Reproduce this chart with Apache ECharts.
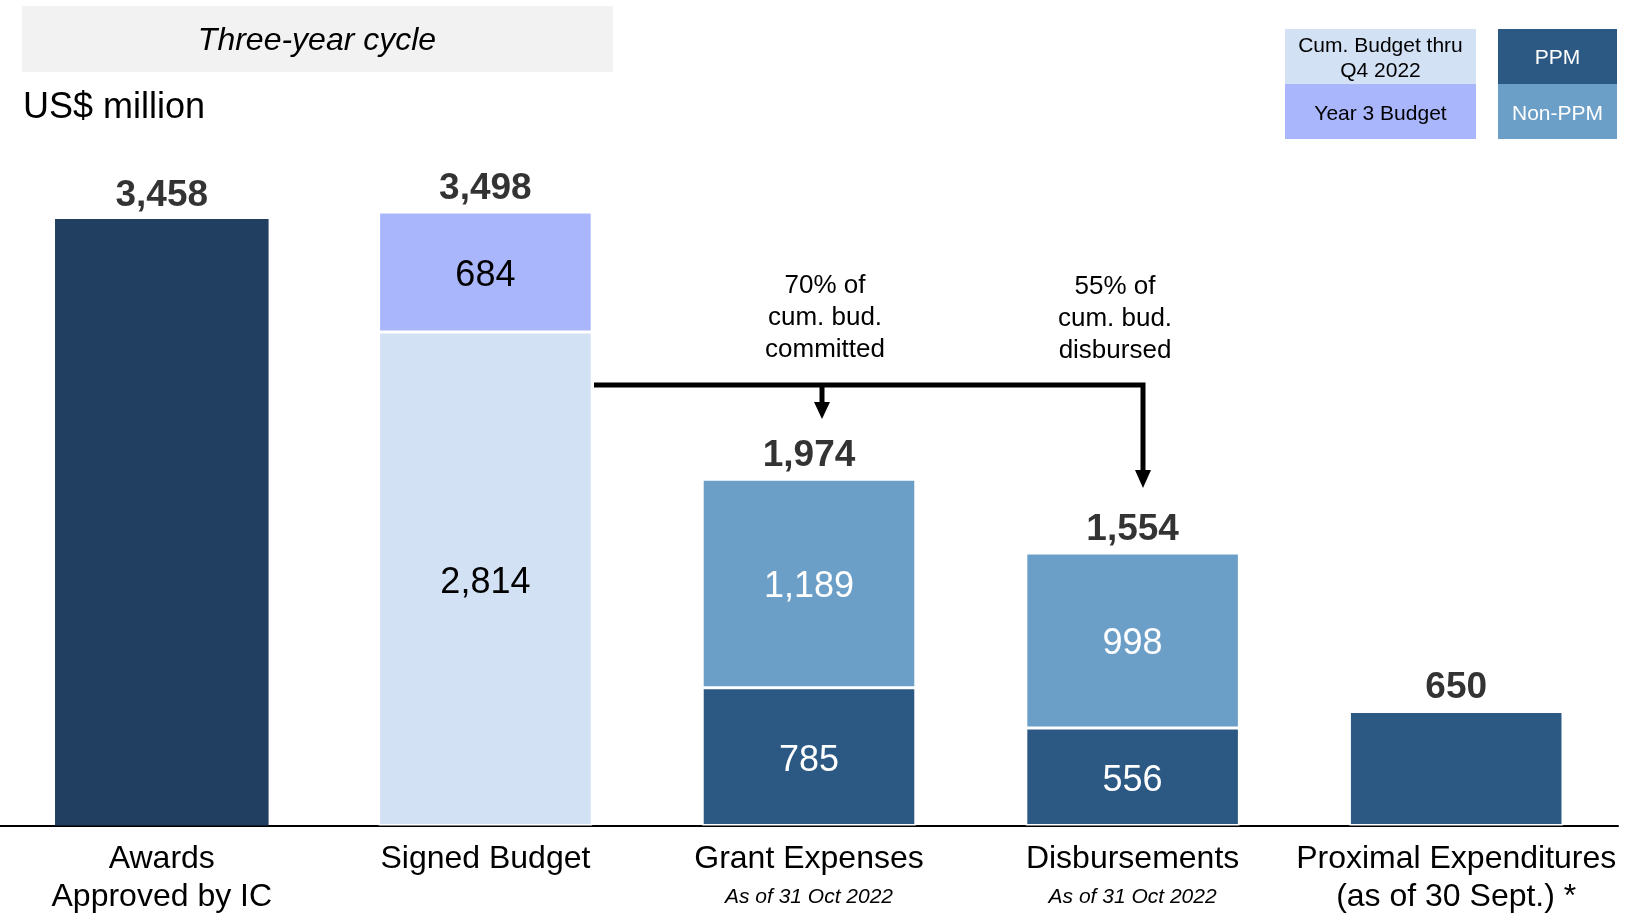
<!DOCTYPE html>
<html>
<head>
<meta charset="utf-8">
<title>Three-year cycle</title>
<script src="https://cdn.jsdelivr.net/npm/echarts@6/dist/echarts.min.js"></script>
<style>
html, body { margin: 0; padding: 0; background: #fff; }
#main { width: 1626px; height: 923px; }
</style>
</head>
<body>
<div id="main"></div>
<script>
// data (US$ million)
const categories = ["Awards\nApproved by IC", "Signed Budget", "Grant Expenses", "Disbursements", "Proximal Expenditures\n(as of 30 Sept.) *"];
const subNotes = ["", "", "As of 31 Oct 2022", "As of 31 Oct 2022", ""];
const awards = [3458, "-", "-", "-", "-"];
const cumBudget = ["-", 2814, "-", "-", "-"];
const year3Budget = ["-", 684, "-", "-", "-"];
const ppm = ["-", "-", 785, 556, 650];
const nonPpm = ["-", "-", 1189, 998, "-"];
const ppmLabelShown = [false, false, true, true, false];
const totals = [3458, 3498, 1974, 1554, 650];

const FONT = '"Liberation Sans", Arial, sans-serif';
const fmt = v => Number(v).toLocaleString("en-US");

const chartDom = document.getElementById("main");
const myChart = echarts.init(chartDom);

const insideLabel = color => ({
	show: true,
	position: "inside",
	offset: [0, 4],
	color: color,
	fontSize: 36,
	fontFamily: FONT,
	formatter: p => fmt(p.value)
});

const option = {
	animation: false,
	backgroundColor: "#fff",
	textStyle: { fontFamily: FONT },
	grid: { left: 0, right: 8, top: 124, bottom: 97.5 },
	xAxis: {
		type: "category",
		data: categories,
		axisLine: { lineStyle: { color: "#000", width: 2 } },
		axisTick: { show: false },
		axisLabel: {
			interval: 0,
			margin: 15,
			color: "#000",
			fontFamily: FONT,
			fontSize: 32,
			lineHeight: 38,
			formatter: function(value, idx) {
				const lines = value.split("\n").map(s => "{a|" + s + "}");
				if (subNotes[idx]) lines.push("{b|" + subNotes[idx] + "}");
				return lines.join("\n");
			},
			rich: {
				a: { fontSize: 32, lineHeight: 38, color: "#000", fontFamily: FONT },
				b: { fontSize: 21, lineHeight: 38, fontStyle: "italic", color: "#000", fontFamily: FONT }
			}
		}
	},
	yAxis: { type: "value", min: 0, max: 4000, show: false },
	series: [
		{
			name: "Awards",
			type: "bar",
			stack: "a",
			barCategoryGap: "34%",
			itemStyle: { color: "#213F60" },
			data: awards
		},
		{
			name: "PPM",
			type: "bar",
			stack: "a",
			itemStyle: { color: "#2B5984", borderColor: "#fff", borderWidth: 1.5 },
			label: insideLabel("#fff"),
			data: ppm.map((v, i) => ({ value: v, label: { show: ppmLabelShown[i] } }))
		},
		{
			name: "Non-PPM",
			type: "bar",
			stack: "a",
			itemStyle: { color: "#6C9FC7", borderColor: "#fff", borderWidth: 1.5 },
			label: insideLabel("#fff"),
			data: nonPpm
		},
		{
			name: "Cum. Budget thru Q4 2022",
			type: "bar",
			stack: "a",
			itemStyle: { color: "#D3E1F5", borderColor: "#fff", borderWidth: 1.5 },
			label: insideLabel("#000"),
			data: cumBudget
		},
		{
			name: "Year 3 Budget",
			type: "bar",
			stack: "a",
			itemStyle: { color: "#A9B6FC", borderColor: "#fff", borderWidth: 1.5 },
			label: insideLabel("#000"),
			data: year3Budget
		},
		{
			name: "Total",
			type: "scatter",
			symbolSize: 1,
			itemStyle: { color: "transparent" },
			label: {
				show: true,
				position: "top",
				distance: 5,
				color: "#000",
				fontSize: 37,
				lineHeight: 36,
				fontWeight: "bold",
				fontFamily: FONT,
				formatter: p => fmt(p.value)
			},
			data: totals
		}
	],
	graphic: [
		// title box
		{ type: "rect", shape: { x: 22, y: 6, width: 591, height: 66 }, style: { fill: "#F2F2F2" } },
		{ type: "text", style: { text: "Three-year cycle", x: 317, y: 41.5, font: "italic 32px " + FONT, fill: "#000", textAlign: "center", verticalAlign: "middle" } },
		{ type: "text", style: { text: "US$ million", x: 23, y: 108, font: "36px " + FONT, fill: "#000", textAlign: "left", verticalAlign: "middle" } },
		// legend boxes
		{ type: "rect", shape: { x: 1285, y: 29, width: 191, height: 55 }, style: { fill: "#D3E1F5" } },
		{ type: "rect", shape: { x: 1285, y: 84, width: 191, height: 55 }, style: { fill: "#A9B6FC" } },
		{ type: "rect", shape: { x: 1498, y: 29, width: 119, height: 55 }, style: { fill: "#2B5984" } },
		{ type: "rect", shape: { x: 1498, y: 84, width: 119, height: 55 }, style: { fill: "#6C9FC7" } },
		{ type: "text", style: { text: "Cum. Budget thru\nQ4 2022", x: 1380.5, y: 59, font: "21px " + FONT, lineHeight: 25, fill: "#000", textAlign: "center", verticalAlign: "middle" } },
		{ type: "text", style: { text: "Year 3 Budget", x: 1380.5, y: 114, font: "21px " + FONT, fill: "#000", textAlign: "center", verticalAlign: "middle" } },
		{ type: "text", style: { text: "PPM", x: 1557.5, y: 58.5, font: "21px " + FONT, fill: "#fff", textAlign: "center", verticalAlign: "middle" } },
		{ type: "text", style: { text: "Non-PPM", x: 1557.5, y: 114.5, font: "21px " + FONT, fill: "#fff", textAlign: "center", verticalAlign: "middle" } },
		// arrows
		{ type: "polyline", shape: { points: [[594, 385], [1143, 385], [1143, 472]] }, style: { stroke: "#000", lineWidth: 5, fill: null } },
		{ type: "polygon", shape: { points: [[1135, 470], [1151, 470], [1143, 488]] }, style: { fill: "#000" } },
		{ type: "line", shape: { x1: 822, y1: 385, x2: 822, y2: 404 }, style: { stroke: "#000", lineWidth: 5 } },
		{ type: "polygon", shape: { points: [[814, 402], [830, 402], [822, 419]] }, style: { fill: "#000" } },
		// annotations
		{ type: "text", style: { text: "70% of\ncum. bud.\ncommitted", x: 825, y: 318, font: "26px " + FONT, lineHeight: 32, fill: "#000", textAlign: "center", verticalAlign: "middle" } },
		{ type: "text", style: { text: "55% of\ncum. bud.\ndisbursed", x: 1115, y: 319, font: "26px " + FONT, lineHeight: 32, fill: "#000", textAlign: "center", verticalAlign: "middle" } }
	]
};
myChart.setOption(option);
</script>
</body>
</html>
